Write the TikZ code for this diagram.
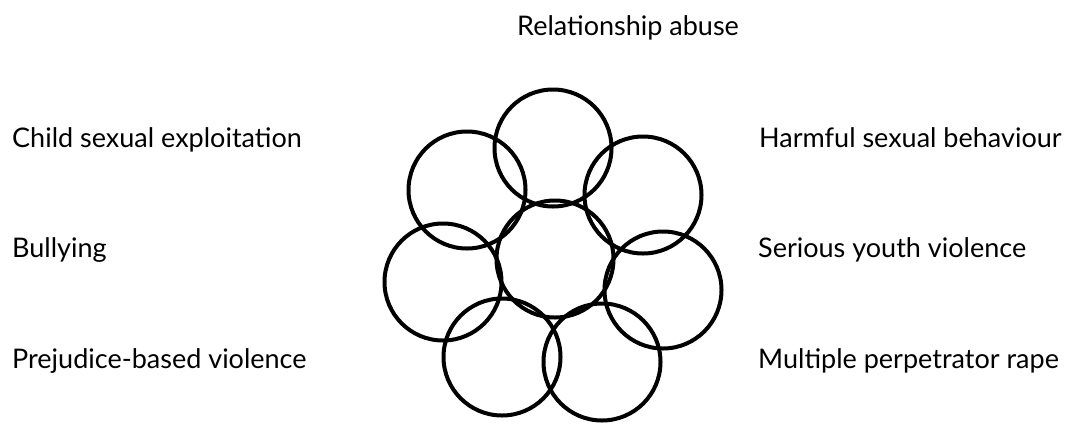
\documentclass[tikz,border=0pt]{standalone}
\usepackage{fontspec}
\setmainfont{Lato}
\usepackage{tikz}
\usetikzlibrary{positioning}

\begin{document}
\begin{tikzpicture}[
        x=1pt, y=-1pt,
        ring/.style={circle, draw=black, line width=4pt, minimum size=117pt, inner sep=0pt},
        label/.style={anchor=base west, inner sep=0pt, font=\fontsize{27}{32}\selectfont}
    ]
        \useasboundingbox (0,0) rectangle (1068,424);
        % Circles
        \node[ring] (hub) at (555,259) {};
        \node[ring] (ctop) at (553,148) {};
        \node[ring] (cul) at (467,190) {};
        \node[ring] (cur) at (643,195) {};
        \node[ring] (cl) at (443,282) {};
        \node[ring] (cr) at (663,290) {};
        \node[ring] (cll) at (502,357) {};
        \node[ring] (clr) at (602,362) {};
        
        % Labels
        \node[label] (rel) at (517,35) {Relationship abuse};
        \node[label] (cse) at (12,147) {Child sexual exploitation};
        \node[label] (bully) at (12,257) {Bullying};
        \node[label] (prej) at (12,368) {Prejudice-based violence};
        \node[label] (hsb) at (759,147) {Harmful sexual behaviour};
        \node[label] (syv) at (758,257) {Serious youth violence};
        \node[label] (mpr) at (758,368) {Multiple perpetrator rape};
    \end{tikzpicture}
\end{document}
